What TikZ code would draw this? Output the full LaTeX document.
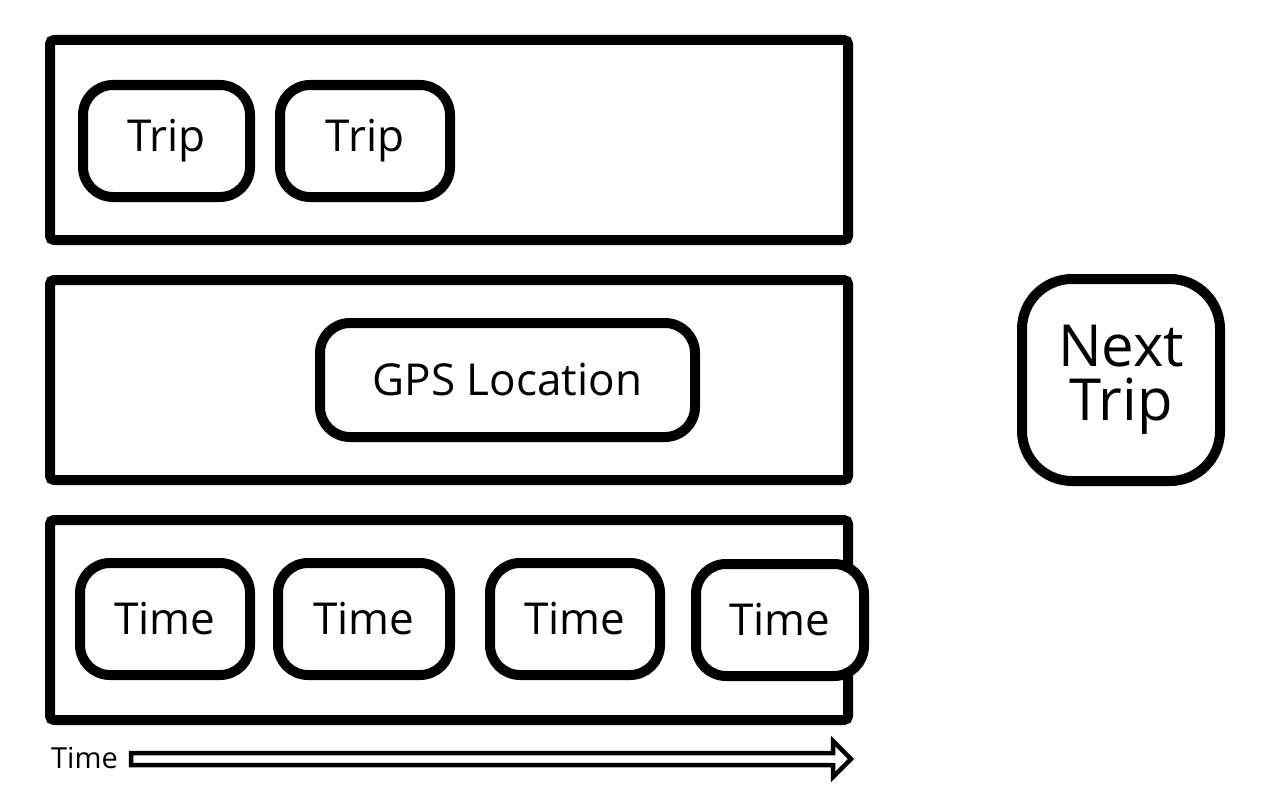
\documentclass[tikz,border=0pt]{standalone}
\usepackage{fontspec}
\setmainfont[Ligatures=NoCommon]{Open Sans}
\begin{document}
\begin{tikzpicture}[x=1pt,y=-1pt,
  lane/.style={draw,line width=10pt,rounded corners=4pt,minimum width=798pt,minimum height=200pt,inner sep=0pt},
  item/.style={draw,fill=white,line width=10pt,rounded corners=30pt,minimum height=112pt,inner sep=0pt,font=\fontsize{44}{50}\selectfont},
  bigitem/.style={draw,fill=white,line width=10pt,rounded corners=50pt,inner sep=0pt,align=center,font=\fontsize{58}{62}\selectfont},
  timearrow/.style={draw,line width=4.5pt,line join=miter}]
\useasboundingbox (0,0) rectangle (1280,800);
\node[lane] (r1) at (449,140) {};
\node[lane] (r2) at (449,380) {};
\node[lane] (r3) at (449,620) {};
\node[item,minimum width=167pt] (t1) at (166.5,141) {Trip};
\node[item,minimum width=170pt] (t2) at (365,141) {Trip};
\node[item,minimum width=375pt,minimum height=114pt] (gps) at (507.5,380) {GPS Location};
\node[item,minimum width=170pt] (m1) at (165,619) {Time};
\node[item,minimum width=172pt] (m2) at (364,619) {Time};
\node[item,minimum width=170pt] (m3) at (575,619) {Time};
\node[item,minimum width=168pt] (m4) at (780,620) {Time};
\node[bigitem,minimum width=198pt,minimum height=202pt] (next) at (1121,380) {Next\\[-8pt]Trip};
\node[anchor=base east,inner sep=0pt,font=\fontsize{29}{32}\selectfont] (tl) at (118,768) {Time};
\coordinate (a0) at (131,753);
\draw[timearrow] (a0) -- (833,753) -- (833,741) -- (851,759) -- (833,777) -- (833,765) -- (131,765) -- cycle;
\end{tikzpicture}
\end{document}
